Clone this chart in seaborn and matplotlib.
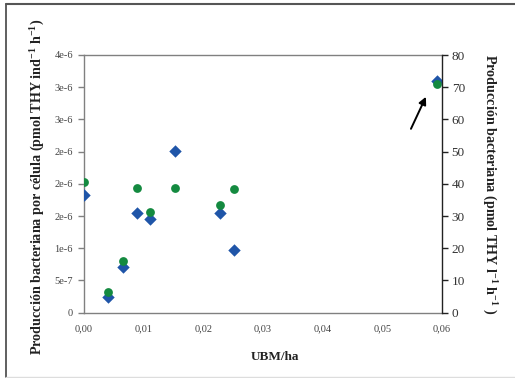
import matplotlib
matplotlib.use("Agg")
import matplotlib.pyplot as plt
import seaborn as sns
import pandas as pd
from matplotlib.lines import Line2D

# ---- data ----
ubm_ha = [0.0, 0.0041, 0.0065, 0.0089, 0.0111, 0.0153, 0.0228, 0.0252, 0.0591]
prod_por_celula = [1.82e-6, 2.5e-7, 7.15e-7, 1.55e-6, 1.45e-6, 2.51e-6, 1.55e-6, 9.75e-7, 3.6e-6]
prod_bacteriana = [40.6, 6.3, 16.1, 38.7, 31.4, 38.7, 33.3, 38.5, 71.0]

x_ticks = [0.0, 0.01, 0.02, 0.03, 0.04, 0.05, 0.06]
x_tick_labels = ["0,00", "0,01", "0,02", "0,03", "0,04", "0,05", "0,06"]
left_ticks = [0, 5e-7, 1e-6, 1.5e-6, 2e-6, 2.5e-6, 3e-6, 3.5e-6, 4e-6]
left_tick_labels = ["0", "5e-7", "1e-6", "2e-6", "2e-6", "2e-6", "3e-6", "3e-6", "4e-6"]
right_ticks = [0, 10, 20, 30, 40, 50, 60, 70, 80]

df_left = pd.DataFrame({"x": ubm_ha, "y": prod_por_celula})
df_right = pd.DataFrame({"x": ubm_ha, "y": prod_bacteriana})

sns.set_style("white")
plt.rcParams["font.family"] = ["Liberation Serif", "DejaVu Serif"]
plt.rcParams["mathtext.fontset"] = "custom"
plt.rcParams["mathtext.rm"] = "Liberation Serif"
plt.rcParams["mathtext.bf"] = "Liberation Serif:bold"
plt.rcParams["mathtext.default"] = "bf"

fig = plt.figure(figsize=(5.15, 3.78), dpi=100)
ax = fig.add_axes([84/515, 1-312.7/378, (442-84)/515, (312.7-55)/378])
ax2 = ax.twinx()

blue = "#1f55a8"
green = "#148a40"

sns.scatterplot(data=df_left, x="x", y="y", ax=ax, marker="D", s=40,
                color=blue, linewidth=0, zorder=3)
sns.scatterplot(data=df_right, x="x", y="y", ax=ax2, marker="o", s=40,
                color=green, linewidth=0, zorder=2)

ax.set_xlim(0, 0.06)
ax.set_ylim(0, 4e-6)
ax2.set_ylim(0, 80)

ax.set_xticks(x_ticks)
ax.set_xticklabels(x_tick_labels)
ax.set_yticks(left_ticks)
ax.set_yticklabels(left_tick_labels)
ax2.set_yticks(right_ticks)
ax2.set_yticklabels([str(t) for t in right_ticks])

grey = "#808080"
for a in (ax, ax2):
    for s in a.spines.values():
        s.set_visible(False)
ax.spines["left"].set_visible(True)
ax.spines["left"].set_color(grey)
ax.spines["bottom"].set_visible(True)
ax.spines["bottom"].set_color(grey)
ax.spines["top"].set_visible(True)
ax.spines["top"].set_color(grey)
ax2.spines["right"].set_visible(True)
ax2.spines["right"].set_color("#222222")
for s in ("left", "bottom", "top"):
    ax.spines[s].set_linewidth(1.0)
ax2.spines["right"].set_linewidth(1.0)

ax.tick_params(axis="x", direction="inout", length=5, width=1, color=grey,
               labelsize=7.5, labelcolor="#444444", pad=6)
ax.tick_params(axis="y", direction="out", length=4, width=1, color=grey,
               labelsize=7.5, labelcolor="#444444", pad=4, left=True)
ax2.tick_params(axis="y", direction="out", length=4, width=1, color="#222222",
                labelsize=9.5, labelcolor="#333333", pad=3, right=True)

ax.set_xlabel("UBM/ha", fontsize=9.5, fontweight="bold", color="#222222")
ax.xaxis.set_label_coords(0.534, -0.15)
ax.set_ylabel(r"Producción bacteriana por célula (pmol THY ind$^{-1}$ h$^{-1}$)",
              fontsize=10.2, fontweight="bold", color="#222222")
ax.yaxis.set_label_coords(-0.104, 0.488)
ax2.set_ylabel(r"Producción bacteriana (pmol THY l$^{-1}$ h$^{-1}$ )",
               fontsize=10.2, fontweight="bold", color="#222222", rotation=270)
ax2.yaxis.set_label_coords(1.157, 0.5)

ax2.annotate("", xy=(0.0575, 67.8), xytext=(0.0546, 56.3),
             arrowprops=dict(arrowstyle="-|>", color="black", lw=1.4,
                             mutation_scale=11))

# figure frame
fig.add_artist(Line2D([6/515, 6/515], [1-4/378, 1-377/378], color="#444444", lw=1.2))
fig.add_artist(Line2D([6/515, 1.0], [1-4/378, 1-4/378], color="#555555", lw=1.5))
fig.add_artist(Line2D([6/515, 1.0], [1-377/378, 1-377/378], color="#dddddd", lw=1.0))

fig.savefig("out.png", dpi=100)
